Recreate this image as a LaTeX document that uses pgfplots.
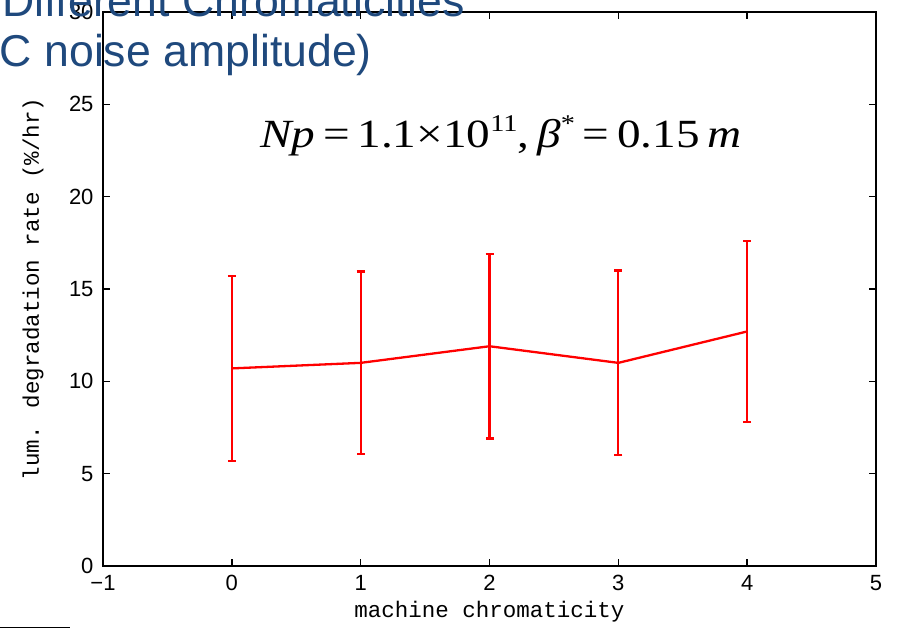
\documentclass[border=0pt]{standalone}
\usepackage{pgfplots}
\pgfplotsset{compat=1.18}
\usepackage{fontspec}
\setmainfont{Liberation Sans}
\newfontfamily\monofont{Liberation Mono}
\newfontfamily\seriffont{Liberation Serif}
\definecolor{titleblue}{RGB}{31,73,125}
\begin{document}
\begin{tikzpicture}
\useasboundingbox (0,0) rectangle (904bp,628bp);
\begin{axis}[
  at={(103bp,62bp)}, anchor=south west,
  scale only axis, width=773bp, height=554bp,
  xmin=-1, xmax=5, ymin=0, ymax=30,
  xtick={-1,0,...,5}, ytick={0,5,...,30},
  xticklabels={−1,0,1,2,3,4,5},
  tick align=inside, major tick length=7bp,
  axis line style={line width=1.8bp},
  every tick/.style={black, line width=1.5bp},
  /pgf/number format/assume math mode=true,
  ticklabel style={font=\fontsize{22bp}{24bp}\selectfont},
  xticklabel style={yshift=-6bp},
  yticklabel style={xshift=-6bp},
  xlabel={machine chromaticity},
  ylabel={lum. degradation rate (\%/hr)},
  label style={font=\monofont\fontsize{22.5bp}{26bp}\selectfont},
  xlabel style={at={(axis description cs:0.5,0)}, anchor=base, yshift=-51bp},
  ylabel style={at={(axis description cs:-0.0906,0.5)}, anchor=center},
  clip=false,
]
\addplot[red, line width=2.3bp, mark=none,
  error bars/.cd, y dir=both, y explicit,
  error bar style={line width=2.3bp, red},
  error mark options={line width=2.3bp, red, mark size=4bp, rotate=90}]
  table[x=x, y=y, y error=e] {
x y e
0 10.7 5.0
1 11.0 4.95
2 11.9 5.0
3 11.0 5.0
4 12.7 4.9
};
\end{axis}
\node[anchor=base, inner sep=0pt, font=\seriffont\fontsize{40bp}{44bp}\selectfont] at (501bp,480bp)
  {\scalebox{1.18}[1]{\textit{Np}\,=\,1.1×10\raisebox{0.42em}{\fontsize{24bp}{26bp}\selectfont 11},\,\textit{β}\raisebox{0.42em}{\fontsize{24bp}{26bp}\selectfont *}\,=\,0.15\,\textit{m}}};
\node[anchor=base east, inner sep=0pt, text=titleblue, font=\fontsize{44.6bp}{50bp}\selectfont] at (465bp,611bp) {Different Chromaticities};
\node[anchor=base east, inner sep=0pt, text=titleblue, font=\fontsize{44.6bp}{50bp}\selectfont] at (372bp,561bp) {(DC noise amplitude)};
\draw[black, line width=1bp] (0,1bp) -- (70bp,1bp);
\end{tikzpicture}
\end{document}
